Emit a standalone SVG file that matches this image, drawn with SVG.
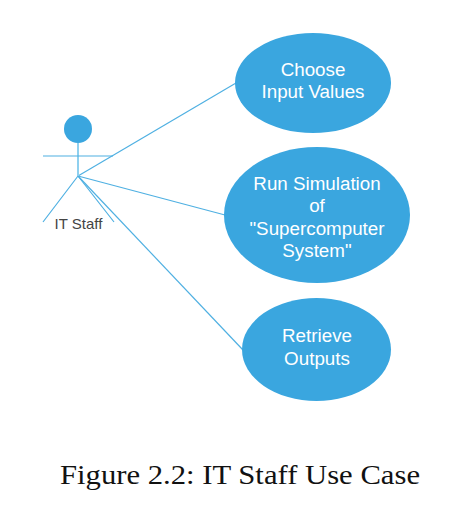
<svg xmlns="http://www.w3.org/2000/svg" width="455" height="516" viewBox="0 0 455 516">
<style>
.u{fill:#3aa6df}
.t{font-family:"Liberation Sans",Arial,sans-serif;font-size:18.8px;fill:#fff;text-anchor:middle}
.c{stroke:#4fb0e2;stroke-width:1.2;fill:none}
.b{stroke:#8fd0ef;stroke-width:2;fill:none}
</style>
<rect width="455" height="516" fill="#fff"/>
<g id="connectors">
<path class="c" d="M78 176L236 83"/>
<path class="c" d="M78 176L225 215"/>
<path class="c" d="M78 176L243 350"/>
</g>
<g id="actor">
<circle class="u" cx="78" cy="129" r="14"/>
<path class="b" d="M78 143V176"/>
<path class="c" d="M43 156H113M78 176L43 222M78 176L114 222"/>
<text x="78.500" y="229" font-family="'Liberation Sans',Arial,sans-serif" font-size="15" fill="#444" text-anchor="middle">IT Staff</text>
</g>
<g id="choose">
<ellipse class="u" cx="313" cy="83" rx="78" ry="50"/>
<text class="t" x="313" y="76">Choose</text>
<text class="t" x="313" y="98">Input Values</text>
</g>
<g id="run">
<ellipse class="u" cx="317" cy="215" rx="93" ry="68"/>
<text class="t" x="317" y="190">Run Simulation</text>
<text class="t" x="317" y="212">of</text>
<text class="t" x="317" y="235">"Supercomputer</text>
<text class="t" x="317" y="257">System"</text>
</g>
<g id="retrieve">
<ellipse class="u" cx="316.500" cy="349.500" rx="74.500" ry="51.500"/>
<text class="t" x="317" y="342">Retrieve</text>
<text class="t" x="317" y="365">Outputs</text>
</g>
<text x="60" y="484" font-family="'Liberation Serif','Times New Roman',serif" font-size="27" fill="#111" textLength="360" lengthAdjust="spacingAndGlyphs">Figure 2.2: IT Staff Use Case</text>
</svg>
